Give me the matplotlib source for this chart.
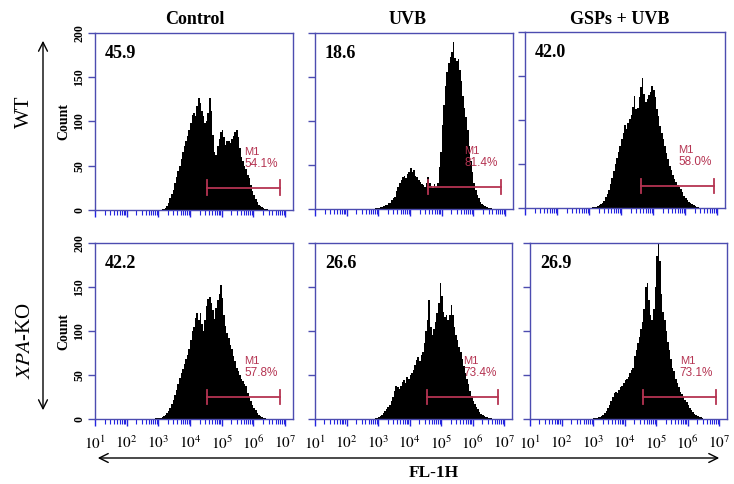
import numpy as np
import matplotlib
matplotlib.use("Agg")
import matplotlib.pyplot as plt
from matplotlib.patches import FancyArrowPatch
from matplotlib.ticker import LogLocator, NullFormatter, FixedLocator, FixedFormatter

plt.rcParams["font.family"] = ["Liberation Serif", "DejaVu Serif"]
plt.rcParams["mathtext.fontset"] = "stix"

# ---- data ----
BIN_W = 0.05  # width of one histogram channel, in decades

columns = ["Control", "UVB", "GSPs + UVB"]
rows = ["WT", r"$\it{XPA}$-KO"]
corner_values = [["45.9", "18.6", "42.0"],
                 ["42.2", "26.6", "26.9"]]
m1_percent = [["54.1%", "81.4%", "58.0%"],
              ["57.8%", "73.4%", "73.1%"]]
# M1 gate (log10 of FL-1H), left / right end
m1_gate = [[(4.55, 6.84), (4.56, 6.86), (4.64, 6.90)],
           [(4.55, 6.84), (4.54, 6.80), (4.59, 6.89)]]
# log10 of the first channel edge of each histogram
start_decade = [[3.1, 2.9, 3.1],
                [2.9, 2.9, 3.0]]

counts_wt_control = [1, 1, 2, 5, 8, 13, 18, 23, 30, 37, 44, 50, 58, 66, 72, 78, 84, 90,
                     98, 107, 110, 106, 117, 126, 121, 112, 106, 98, 100, 110, 126, 112,
                     85, 66, 62, 72, 80, 88, 90, 82, 74, 78, 78, 76, 80, 84, 88, 90, 82,
                     70, 60, 55, 50, 46, 40, 36, 28, 22, 17, 12, 9, 6, 4, 3, 2, 1, 1]
counts_wt_uvb = [1, 1, 1, 2, 2, 3, 4, 5, 7, 7, 10, 12, 14, 20, 25, 30, 33, 36, 38, 35,
                 40, 42, 47, 42, 44, 38, 36, 33, 31, 28, 27, 25, 29, 36, 30, 26, 24, 28,
                 25, 30, 48, 65, 95, 118, 140, 156, 166, 173, 178, 190, 172, 168, 170,
                 158, 145, 128, 115, 104, 90, 72, 55, 42, 30, 22, 16, 12, 8, 6, 4, 3, 2,
                 1, 1, 1]
counts_wt_gsp = [1, 1, 1, 2, 3, 4, 6, 8, 12, 16, 21, 27, 34, 42, 50, 57, 64, 71, 78, 85,
                 94, 90, 97, 101, 106, 115, 127, 112, 114, 126, 137, 148, 130, 120, 124,
                 128, 132, 139, 134, 126, 113, 104, 93, 85, 78, 70, 63, 56, 48, 43, 37,
                 33, 29, 26, 24, 22, 18, 14, 11, 9, 7, 6, 4, 3, 2, 1, 1]
counts_ko_control = [1, 1, 1, 1, 2, 3, 5, 7, 9, 13, 17, 22, 27, 33, 40, 47, 52, 57, 62,
                     68, 73, 79, 90, 100, 105, 115, 120, 112, 121, 108, 100, 112, 128,
                     136, 139, 132, 124, 114, 126, 135, 142, 152, 138, 118, 106, 98, 92,
                     84, 80, 72, 66, 58, 54, 50, 46, 43, 40, 37, 30, 25, 20, 16, 12, 10,
                     7, 5, 3, 2, 1, 1]
counts_ko_uvb = [1, 1, 2, 3, 5, 7, 9, 11, 14, 16, 20, 25, 32, 38, 36, 34, 37, 42, 44, 41,
                 48, 46, 50, 52, 56, 61, 67, 70, 66, 73, 76, 86, 100, 112, 135, 104, 96,
                 102, 110, 120, 132, 154, 140, 122, 116, 118, 112, 118, 130, 118, 104, 96,
                 90, 82, 76, 68, 60, 52, 46, 40, 32, 26, 21, 17, 14, 11, 8, 6, 5, 3, 2,
                 2, 1, 1]
counts_ko_gsp = [1, 1, 1, 2, 2, 3, 5, 7, 9, 12, 16, 21, 25, 30, 31, 29, 33, 36, 38, 41,
                 44, 46, 48, 52, 56, 58, 72, 78, 86, 93, 102, 110, 125, 150, 155, 135,
                 118, 112, 125, 150, 185, 200, 180, 142, 122, 112, 100, 88, 78, 68, 58,
                 54, 46, 41, 36, 31, 28, 25, 22, 19, 16, 13, 10, 8, 6, 5, 3, 2, 2, 1]

counts = [[counts_wt_control, counts_wt_uvb, counts_wt_gsp],
          [counts_ko_control, counts_ko_uvb, counts_ko_gsp]]

x_decades = [1, 2, 3, 4, 5, 6, 7]
y_ticks = [0, 50, 100, 150, 200]

# ---- layout (pixels of the 734x484 picture: left, top, right, bottom) ----
W, H = 734, 484
boxes = [[(95, 33, 293, 210), (315, 33, 513, 209), (525, 32, 725, 208)],
         [(95, 243, 293, 419), (315, 243, 512, 419), (530, 243, 727, 419)]]

SPINE = "#4c4cb0"
TICK = "#2323e0"
GATE = "#b53452"
SANS = ["Liberation Sans", "DejaVu Sans"]

fig = plt.figure(figsize=(W / 100, H / 100), dpi=100)

for r in range(2):
    for c in range(3):
        x0, y0, x1, y1 = boxes[r][c]
        ax = fig.add_axes([x0 / W, 1 - y1 / H, (x1 - x0) / W, (y1 - y0) / H])
        vals = np.array(counts[r][c])
        edges = 10 ** (start_decade[r][c] + BIN_W * np.arange(len(vals) + 1))
        ax.stairs(vals, edges, fill=True, color="black", lw=0)

        ax.set_xscale("log")
        ax.set_xlim(10 ** 1, 10 ** 7.25)
        ax.set_ylim(0, 200)

        for s in ax.spines.values():
            s.set_color(SPINE)
            s.set_linewidth(1.0)
            s.set_zorder(5)

        ax.xaxis.set_major_locator(FixedLocator([10.0 ** k for k in x_decades]))
        ax.xaxis.set_minor_locator(LogLocator(base=10, subs=np.arange(2, 10), numticks=20))
        ax.xaxis.set_minor_formatter(NullFormatter())
        if r == 1:
            ax.xaxis.set_major_formatter(
                FixedFormatter([r"$10^{%d}$" % k for k in x_decades]))
        else:
            ax.xaxis.set_major_formatter(NullFormatter())
        ax.tick_params(axis="x", which="major", direction="out", length=5,
                       width=1.0, color=TICK, labelsize=11, pad=6)
        ax.tick_params(axis="x", which="minor", direction="out", length=3.5,
                       width=0.8, color=TICK)

        ax.set_yticks(y_ticks)
        ax.tick_params(axis="y", direction="out", length=5, width=1.0,
                       color=SPINE, labelsize=8.5, pad=2)
        if c == 0:
            for lab in ax.get_yticklabels():
                lab.set_rotation(90)
                lab.set_va("center")
                lab.set_fontweight("bold")
            ax.set_ylabel("Count", fontsize=10, fontweight="bold", labelpad=2)
        else:
            ax.set_yticklabels([])

        # corner value
        ax.text(0.05, 0.885, corner_values[r][c], transform=ax.transAxes,
                fontsize=13, fontweight="bold", ha="left", va="center")

        # M1 gate
        lo, hi = m1_gate[r][c]
        ax.plot([10 ** lo, 10 ** hi], [25, 25], color=GATE, lw=1.3, zorder=4)
        ax.plot([10 ** lo, 10 ** lo], [16.5, 33.5], color=GATE, lw=1.3, zorder=4)
        ax.plot([10 ** hi, 10 ** hi], [16.5, 33.5], color=GATE, lw=1.3, zorder=4)
        ax.text(10 ** (lo + 1.16), 66, "M1", color=GATE, fontsize=8,
                family=SANS, ha="left", va="center", zorder=4)
        ax.text(10 ** (lo + 1.16), 52, m1_percent[r][c], color=GATE, fontsize=8.5,
                family=SANS, ha="left", va="center", zorder=4)

# column titles
title_x = [195, 408, 620]
for c in range(3):
    fig.text(title_x[c] / W, 1 - 19 / H, columns[c], fontsize=13,
             fontweight="bold", ha="center", va="center")

# row labels
fig.text(24 / W, 1 - 112 / H, rows[0], fontsize=15, rotation=90,
         ha="center", va="center")
fig.text(26 / W, 1 - 340 / H, rows[1], fontsize=15, rotation=90,
         ha="center", va="center")

# arrows
fig.add_artist(FancyArrowPatch((43 / W, 1 - 38 / H), (43 / W, 1 - 413 / H),
                               transform=fig.transFigure, arrowstyle="<->",
                               mutation_scale=16, lw=1.0, color="black"))
fig.add_artist(FancyArrowPatch((95 / W, 1 - 458 / H), (722 / W, 1 - 458 / H),
                               transform=fig.transFigure, arrowstyle="<->",
                               mutation_scale=16, lw=1.0, color="black"))

fig.text(434 / W, 1 - 473 / H, "FL-1H", fontsize=12.5, fontweight="bold",
         ha="center", va="center")

fig.savefig("out.png", dpi=100)
